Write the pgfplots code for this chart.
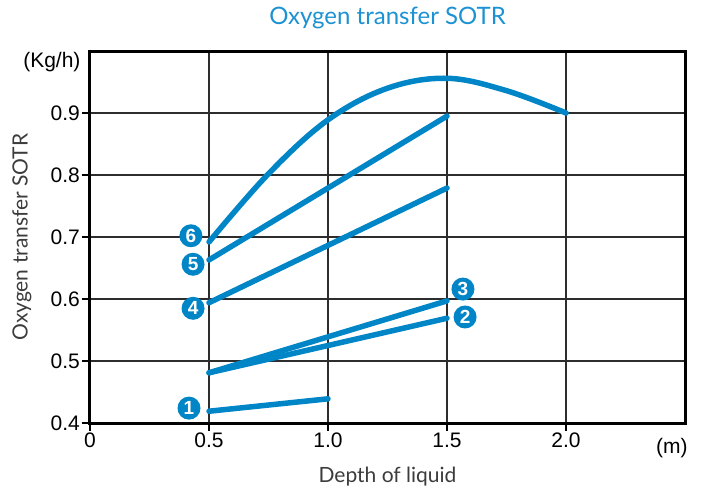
\documentclass[border=0pt]{standalone}
\usepackage{fontspec}
\setmainfont{Liberation Sans}
\newfontfamily\labelfont{Lato}
\usepackage{pgfplots}
\pgfplotsset{compat=1.18}
\definecolor{lineblue}{RGB}{0,133,199}
\definecolor{titleblue}{RGB}{28,146,210}
\definecolor{gridgray}{RGB}{45,45,45}
\definecolor{labgray}{RGB}{60,60,60}
\begin{document}
\begin{tikzpicture}
\useasboundingbox (-90pt,-67pt) rectangle (611pt,423pt);
\begin{axis}[
  at={(0,0)}, anchor=south west,
  scale only axis, width=595pt, height=372pt,
  xmin=0, xmax=2.5, ymin=0.4, ymax=1.0,
  xtick={0,0.5,1,1.5,2}, xticklabels={0,0.5,1.0,1.5,2.0},
  ytick={0.4,0.5,0.6,0.7,0.8,0.9}, yticklabels={0.4,0.5,0.6,0.7,0.8,0.9},
  grid=major, major grid style={draw=gridgray, line width=1.4pt},
  axis line style={line width=3pt, black},
  tick align=outside, major tick length=8pt,
  tick style={black, line width=1.4pt},
  xtick pos=bottom, ytick pos=left,
  ticklabel style={font=\fontsize{21}{24}\selectfont},
  yticklabel style={inner sep=2pt},
  xticklabel style={inner sep=2pt},
  title={\labelfont\fontsize{24}{28}\selectfont\color{titleblue}Oxygen transfer SOTR},
  title style={at={(axis description cs:0.5,1)}, anchor=center, yshift=27pt},
  xlabel={\labelfont\fontsize{21}{24}\selectfont\color{labgray}Depth of liquid},
  xlabel style={at={(axis description cs:0.5,0)}, anchor=center, yshift=-54pt},
  ylabel={\labelfont\fontsize{21}{24}\selectfont\color{labgray}Oxygen transfer SOTR},
  ylabel style={at={(axis description cs:0,0.5)}, anchor=center, yshift=68pt},
  clip=false,
]
% curve 6
\addplot[lineblue, line width=5.5pt, smooth, tension=0.6, line cap=round] coordinates {
 (0.5,0.692) (0.75,0.802) (1.0,0.889) (1.25,0.940)
 (1.5,0.956) (1.75,0.936) (2.0,0.9)};
% line 5
\addplot[lineblue, line width=5.5pt, line cap=round] coordinates {(0.5,0.663) (1.5,0.895)};
% line 4
\addplot[lineblue, line width=5.5pt, line cap=round] coordinates {(0.5,0.594) (1.5,0.779)};
% line 3
\addplot[lineblue, line width=5.5pt, line cap=round] coordinates {(0.5,0.481) (1.5,0.597)};
% line 2
\addplot[lineblue, line width=5.5pt, line cap=round] coordinates {(0.5,0.481) (1.5,0.569)};
% line 1
\addplot[lineblue, line width=5.5pt, line cap=round] coordinates {(0.5,0.419) (1.0,0.439)};
% numbered labels
\addplot[draw=none, nodes near coords, point meta=explicit symbolic,
  every node near coord/.style={circle, fill=lineblue, text=white, inner sep=0pt,
    minimum size=23pt, font=\bfseries\fontsize{19}{19}\selectfont, anchor=center}]
  coordinates {(0.424,0.702)[6] (0.433,0.656)[5] (0.433,0.585)[4]
               (1.567,0.616)[3] (1.576,0.571)[2] (0.416,0.424)[1]};
\node[anchor=east, font=\fontsize{21}{24}\selectfont] at (axis description cs:0,1) [xshift=-6pt, yshift=-11pt] {(Kg/h)};
\node[font=\fontsize{21}{24}\selectfont] at (axis description cs:0.978,0) [yshift=-25pt] {(m)};
\end{axis}
\end{tikzpicture}
\end{document}
